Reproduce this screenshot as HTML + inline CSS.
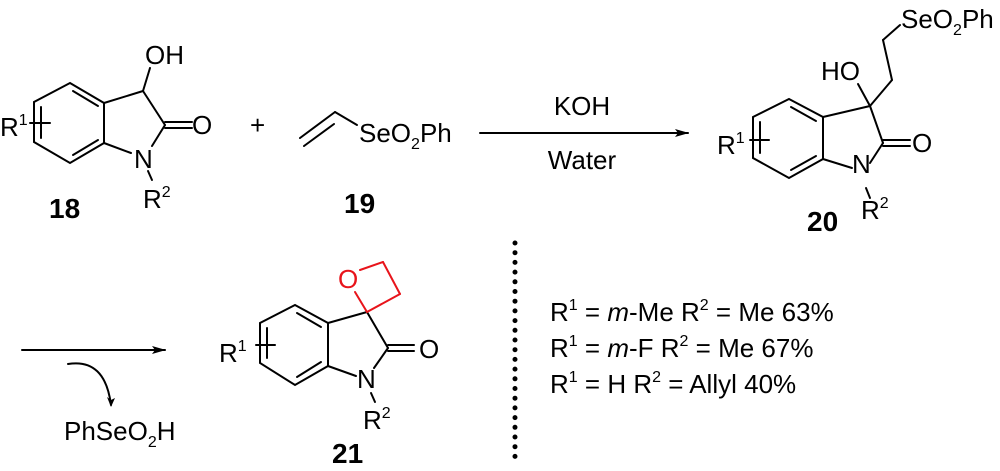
<!DOCTYPE html>
<html><head><meta charset="utf-8"><style>
html,body{margin:0;padding:0;background:#fff;}
svg{display:block;}
text{font-family:"Liberation Sans",Arial,sans-serif;fill:#000;}
.b{font-weight:bold;}
</style></head><body>
<svg width="1000" height="471" viewBox="0 0 1000 471" xmlns="http://www.w3.org/2000/svg">
<defs>
<marker id="ah" markerWidth="14" markerHeight="8" refX="13" refY="4" orient="auto" markerUnits="userSpaceOnUse">
<path d="M0,0 L14,4 L0,8 L3,4 Z" fill="#000"/>
</marker>
</defs>
<g stroke="#000" stroke-width="2" fill="none" stroke-linecap="round">
<!-- 18 -->
<polygon points="70,83 104,103 104,143 70,163 34,142 34,102"/>
<line x1="73" y1="91" x2="98" y2="106"/>
<line x1="73" y1="155" x2="98" y2="140"/>
<line x1="41" y1="107" x2="41" y2="138"/>
<line x1="30" y1="123" x2="50" y2="123"/>
<line x1="104" y1="103" x2="143" y2="91"/>
<line x1="143" y1="91" x2="165" y2="125"/>
<line x1="143" y1="91" x2="150" y2="68"/>
<line x1="165" y1="122" x2="192" y2="122"/>
<line x1="165" y1="128" x2="192" y2="128"/>
<line x1="165" y1="125" x2="152" y2="146"/>
<line x1="104" y1="143" x2="131" y2="153"/>
<line x1="148" y1="171" x2="152" y2="180"/>
<!-- 19 -->
<line x1="300" y1="138" x2="335" y2="112"/>
<line x1="304" y1="146" x2="334" y2="124"/>
<line x1="335" y1="112" x2="357" y2="125"/>
<!-- arrow 1 -->
<line x1="480" y1="133" x2="688" y2="133" marker-end="url(#ah)"/>
<!-- 20 -->
<polygon points="789,99 823,117 823,159 789,178 753,158 753,117"/>
<line x1="791" y1="107" x2="816" y2="121"/>
<line x1="791" y1="170" x2="816" y2="156"/>
<line x1="760" y1="122" x2="760" y2="153"/>
<line x1="750" y1="140" x2="769" y2="140"/>
<line x1="823" y1="117" x2="870" y2="106"/>
<line x1="870" y1="106" x2="883" y2="143"/>
<line x1="870" y1="106" x2="858" y2="84"/>
<line x1="870" y1="106" x2="892" y2="80"/>
<line x1="892" y1="80" x2="883" y2="40"/>
<line x1="883" y1="40" x2="900" y2="25"/>
<line x1="883" y1="140" x2="910" y2="140"/>
<line x1="883" y1="146" x2="910" y2="146"/>
<line x1="883" y1="143" x2="870" y2="163"/>
<line x1="823" y1="159" x2="852" y2="168"/>
<line x1="866" y1="188" x2="870" y2="198"/>
<!-- arrow 2 -->
<line x1="22" y1="350" x2="165" y2="350" marker-end="url(#ah)"/>
<path d="M68,364 Q105,358 111,405"/>
<!-- 21 -->
<polygon points="295,305 328,323 328,366 295,385 260,363 260,323"/>
<line x1="297" y1="313" x2="321" y2="327"/>
<line x1="297" y1="377" x2="321" y2="362"/>
<line x1="267" y1="328" x2="267" y2="358"/>
<line x1="256" y1="345" x2="275" y2="345"/>
<line x1="328" y1="323" x2="367" y2="312"/>
<line x1="367" y1="312" x2="388" y2="348"/>
<line x1="388" y1="345" x2="414" y2="345"/>
<line x1="388" y1="351" x2="414" y2="351"/>
<line x1="388" y1="348" x2="374" y2="368"/>
<line x1="328" y1="366" x2="356" y2="376"/>
<line x1="371" y1="393" x2="375" y2="402"/>
</g>
<path d="M111,407 L107,397 L111,400 L115,398 Z" fill="#000"/>
<g stroke="#e8141b" stroke-width="2" fill="none" stroke-linecap="round">
<line x1="367" y1="312" x2="400" y2="294"/>
<line x1="400" y1="294" x2="383" y2="262"/>
<line x1="383" y1="262" x2="360" y2="270"/>
<line x1="367" y1="312" x2="355" y2="292"/>
</g>
<!-- dotted line -->
<line x1="515" y1="243" x2="515" y2="462" stroke="#000" stroke-width="5" stroke-linecap="round" stroke-dasharray="0 9.7"/>
<!-- text 18 -->
<text x="145" y="64" font-size="26">OH</text>
<text x="192" y="134" font-size="26">O</text>
<text x="134" y="168" font-size="26">N</text>
<text x="143" y="208" font-size="26">R<tspan font-size="16" dy="-11">2</tspan></text>
<text x="0" y="136" font-size="26">R<tspan font-size="16" dy="-11">1</tspan></text>
<text x="49" y="218" font-size="28" class="b">18</text>
<!-- 19 -->
<text x="250" y="134" font-size="26">+</text>
<text x="359" y="142" font-size="26">SeO<tspan font-size="16" dy="7">2</tspan><tspan dy="-7">Ph</tspan></text>
<text x="344" y="213" font-size="28" class="b">19</text>
<text x="582" y="115" font-size="26" text-anchor="middle">KOH</text>
<text x="582" y="169" font-size="26" text-anchor="middle">Water</text>
<!-- 20 -->
<text x="901" y="28" font-size="26">SeO<tspan font-size="16" dy="7">2</tspan><tspan dy="-7">Ph</tspan></text>
<text x="821" y="80" font-size="26">HO</text>
<text x="912" y="152" font-size="26">O</text>
<text x="852" y="173" font-size="26">N</text>
<text x="861" y="219" font-size="26">R<tspan font-size="16" dy="-11">2</tspan></text>
<text x="717" y="154" font-size="26">R<tspan font-size="16" dy="-11">1</tspan></text>
<text x="807" y="231" font-size="28" class="b">20</text>
<!-- PhSeO2H -->
<text x="64" y="440" font-size="26">PhSeO<tspan font-size="16" dy="7">2</tspan><tspan dy="-7">H</tspan></text>
<!-- 21 -->
<text x="338" y="288" font-size="26" fill="#e8141b" style="fill:#e8141b">O</text>
<text x="419" y="358" font-size="26">O</text>
<text x="357" y="388" font-size="26">N</text>
<text x="363" y="429" font-size="26">R<tspan font-size="16" dy="-11">2</tspan></text>
<text x="219" y="362" font-size="26">R<tspan font-size="16" dy="-11">1</tspan></text>
<text x="332" y="463" font-size="28" class="b">21</text>
<!-- conditions -->
<text x="550" y="321" font-size="26">R<tspan font-size="16" dy="-11">1</tspan><tspan dy="11"> = </tspan><tspan font-style="italic">m</tspan>-Me R<tspan font-size="16" dy="-11">2</tspan><tspan dy="11"> = Me 63%</tspan></text>
<text x="550" y="357" font-size="26">R<tspan font-size="16" dy="-11">1</tspan><tspan dy="11"> = </tspan><tspan font-style="italic">m</tspan>-F R<tspan font-size="16" dy="-11">2</tspan><tspan dy="11"> = Me 67%</tspan></text>
<text x="550" y="393" font-size="26">R<tspan font-size="16" dy="-11">1</tspan><tspan dy="11"> = H R</tspan><tspan font-size="16" dy="-11">2</tspan><tspan dy="11"> = Allyl 40%</tspan></text>
</svg>
</body></html>
